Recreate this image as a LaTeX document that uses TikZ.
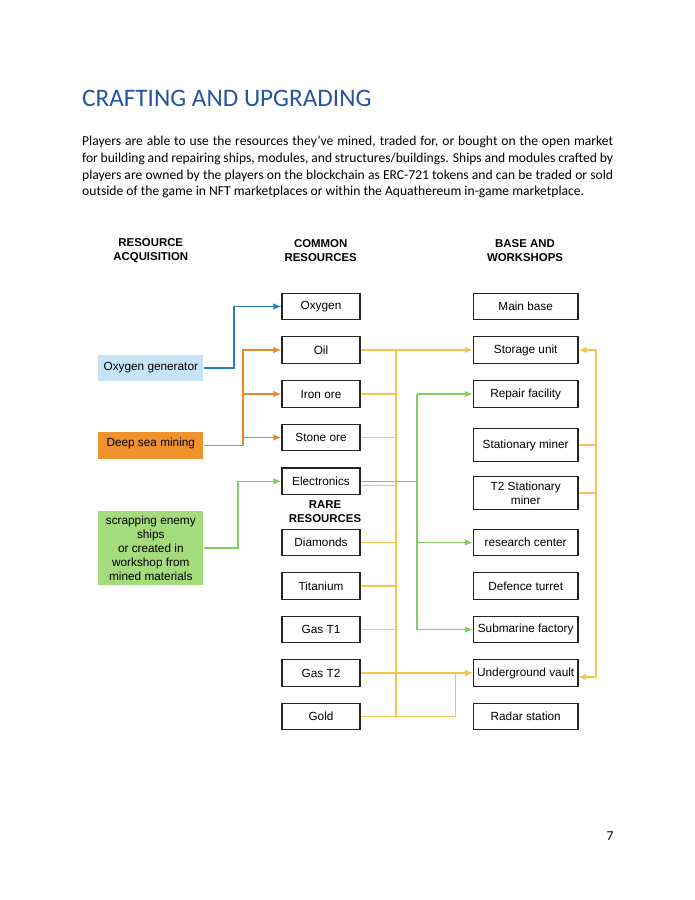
\documentclass[tikz,border=0pt]{standalone}
\usepackage{fontspec}
\setmainfont{Liberation Sans}
\newfontfamily\carlito{Carlito}
\usetikzlibrary{arrows.meta}
\definecolor{titleblue}{HTML}{24559E}
\definecolor{oxyfill}{HTML}{C6E4F6}
\definecolor{orgfill}{HTML}{F0922B}
\definecolor{grnfill}{HTML}{A3DB7D}
\definecolor{bline}{HTML}{2A80BA}
\definecolor{oline}{HTML}{E8892B}
\definecolor{gline}{HTML}{86CC5E}
\definecolor{yline}{HTML}{F4C352}
\tikzset{
  rbox/.style={draw=black!85, line width=1.2pt, fill=white, minimum width=78pt, minimum height=26.5pt, inner sep=1pt, align=center, font=\fontsize{11.8}{14}\selectfont},
  wbox/.style={rbox, minimum width=104.5pt},
  lbox/.style={draw=none, minimum width=105pt, inner sep=1pt, align=center, font=\fontsize{11.8}{14}\selectfont},
  hdr/.style={align=center, inner sep=0pt, font=\fontsize{11.4}{14}\selectfont\bfseries},
  tip/.style={-{Latex[length=8pt,width=6.5pt]}},
  conn/.style={line width=1.3pt},
  bodyline/.style={anchor=base west, inner sep=0pt, font=\carlito\fontsize{13.6}{17}\selectfont}
}
\begin{document}
\begin{tikzpicture}[x=1pt,y=-1pt]
\useasboundingbox[fill=white] (0,0) rectangle (695,900);
% title and text
\node[anchor=base west, inner sep=0pt, text=titleblue, font=\carlito\fontsize{25.2}{29}\selectfont] (title) at (82,106.5) {CRAFTING AND UPGRADING};
\node[bodyline] (l1) at (82,145.7) {\makebox[531pt][s]{Players are able to use the resources they’ve mined, traded for, or bought on the open market}};
\node[bodyline] (l2) at (82,162.4) {\makebox[531pt][s]{for building and repairing ships, modules, and structures/buildings. Ships and modules crafted by}};
\node[bodyline] (l3) at (82,179.1) {\makebox[531pt][s]{players are owned by the players on the blockchain as ERC-721 tokens and can be traded or sold}};
\node[bodyline] (l4) at (82,195.8) {outside of the game in NFT marketplaces or within the Aquathereum in-game marketplace.};
\node[inner sep=0pt, font=\carlito\fontsize{13.6}{16}\selectfont] (pnum) at (610,836) {7};
% headers
\node[hdr] (h1) at (150.8,250.5) {RESOURCE\\ACQUISITION};
\node[hdr] (h2) at (320.7,250.5) {COMMON\\RESOURCES};
\node[hdr] (h3) at (525,250.5) {BASE AND\\WORKSHOPS};
\node[hdr] (h4) at (325,511.5) {RARE\\RESOURCES};
% left boxes
\node[lbox, fill=oxyfill, minimum height=26.5pt] (ogen) at (150.8,368) {Oxygen generator};
\node[lbox, fill=orgfill, minimum height=26.5pt, text depth=6pt] (deep) at (150.8,445.7) {Deep sea mining};
\node[lbox, fill=grnfill, minimum height=74pt] (scrap) at (150.8,548) {scrapping enemy\\ships\\or created in\\workshop from\\mined materials};
% middle boxes
\node[rbox] (oxy) at (321,306.5) {Oxygen};
\node[rbox] (oil) at (321,350) {Oil};
\node[rbox] (iron) at (321,394) {Iron ore};
\node[rbox] (stone) at (321,437.5) {Stone ore};
\node[rbox] (elec) at (321,481.3) {Electronics};
\node[rbox] (diam) at (321,542.5) {Diamonds};
\node[rbox] (tita) at (321,586) {Titanium};
\node[rbox] (gast1) at (321,629.5) {Gas T1};
\node[rbox] (gast2) at (321,673) {Gas T2};
\node[rbox] (gold) at (321,716.5) {Gold};
% right boxes
\node[wbox] (mainb) at (525.7,306.5) {Main base};
\node[wbox] (stor) at (525.7,350) {Storage unit};
\node[wbox] (repair) at (525.7,394) {Repair facility};
\node[wbox, minimum height=32.5pt] (smin) at (525.7,445) {Stationary miner};
\node[wbox, minimum height=32.5pt] (tsmin) at (525.7,493) {T2 Stationary\\miner};
\node[wbox] (rese) at (525.7,542.5) {research center};
\node[wbox] (defe) at (525.7,586) {Defence turret};
\node[wbox] (subm) at (525.7,629.5) {Submarine factory};
\node[wbox] (vault) at (525.7,673) {Underground vault};
\node[wbox] (radar) at (525.7,716.5) {Radar station};
% junction coordinates
\coordinate (jb) at (234,0);
\coordinate (jo) at (243,0);
\coordinate (jg) at (238,0);
\coordinate (jy) at (396,0);
\coordinate (jg2) at (417,0);
\coordinate (jv) at (455.5,0);
\coordinate (jr) at (596,0);
\coordinate (vin) at (578.2,677);
\coordinate (elec2) at ([yshift=-4.3pt]elec.east);
% left connectors
\draw[conn, bline, tip] (ogen.east) -| (jb |- oxy.west) -- (oxy.west);
\draw[conn, oline, tip] (deep.east) -| (jo |- oil.west) -- (oil.west);
\draw[conn, oline, tip] (jo |- iron.west) -- (iron.west);
\draw[conn, oline, tip] (jo |- stone.west) -- (stone.west);
\draw[conn, gline, tip] (scrap.east) -| (jg |- elec.west) -- (elec.west);
% yellow middle bus
\draw[conn, yline] (jy |- oil.east) -- (jy |- gold.east);
\draw[conn, yline, tip] (oil.east) -- (stor.west);
\draw[conn, yline] (iron.east) -- (jy |- iron.east);
\draw[conn, yline] (stone.east) -- (jy |- stone.east);
\draw[conn, yline] (elec2) -- (jy |- elec2);
\draw[conn, yline] (diam.east) -- (jy |- diam.east);
\draw[conn, yline] (tita.east) -- (jy |- tita.east);
\draw[conn, yline] (gast1.east) -- (jy |- gast1.east);
\draw[conn, yline, tip] (gast2.east) -- (vault.west);
\draw[conn, yline, tip] (gold.east) -| (jv |- vault.west) -- (vault.west);
% green right bus
\draw[conn, gline] (elec.east) -- (jg2 |- elec.east);
\draw[conn, gline] (jg2 |- repair.west) -- (jg2 |- subm.west);
\draw[conn, gline, tip] (jg2 |- repair.west) -- (repair.west);
\draw[conn, gline, tip] (jg2 |- rese.west) -- (rese.west);
\draw[conn, gline, tip] (jg2 |- subm.west) -- (subm.west);
% right yellow bus
\draw[conn, yline] (jr |- stor.east) -- (jr |- vin);
\draw[conn, yline, tip] (jr |- stor.east) -- (stor.east);
\draw[conn, yline, tip] (jr |- vin) -- (vin);
\draw[conn, yline] (smin.east) -- (jr |- smin.east);
\draw[conn, yline] (tsmin.east) -- (jr |- tsmin.east);
\end{tikzpicture}
\end{document}
